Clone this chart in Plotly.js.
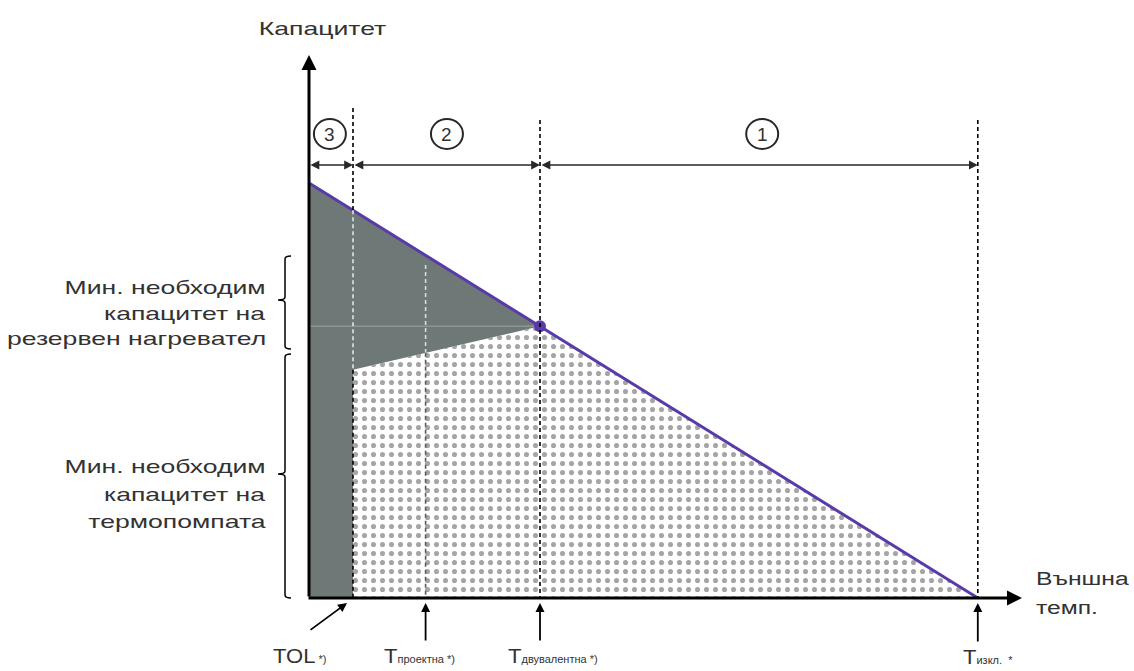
<!DOCTYPE html>
<html>
<head>
<meta charset="utf-8">
<script src="https://cdn.plot.ly/plotly-3.0.1.min.js"></script>
<style>html,body{margin:0;padding:0;background:#fff;}#chart{width:1134px;height:671px;}</style>
</head>
<body>
<div id="chart"></div>
<script>
// ---- data (schematic units) ----
const tempNames = ['TOL', 'проектна', 'двувалентна', 'изкл.'];
const tempValues = [2.0, 5.3, 10.5, 30.4];     // TOL, design, bivalent, switch-off
const loadX = [0, 30.4];                        // building heat load line
const loadY = [100, 0];
const bivalentCap = 65.5;                       // capacity at bivalent point
const hpCapAtTol = 55;                          // heat pump capacity at TOL
const zoneLabels = ['3', '2', '1'];
const zoneCentres = [0.95, 6.27, 20.6];

// ---- pixel helpers for layout only ----
const X = px => (px - 309) / 22;
const Y = py => (598 - py) / 4.15;

const [tTol, tDes, tBiv, tOff] = tempValues;
const purple = 'rgb(88,58,168)';
const grey = 'rgb(110,120,118)';
const FONT = 'Liberation Sans, Arial, sans-serif';
const TXT = 'rgb(50,50,50)';

const traces = [
  { // dotted region: heat pump capacity
    x: [tTol, tTol, tBiv, tOff, tTol], y: [0, hpCapAtTol, bivalentCap, 0, 0],
    type: 'scatter', mode: 'lines', fill: 'toself', line: {width: 0},
    fillcolor: 'white',
    fillpattern: {shape: '.', bgcolor: 'white', fgcolor: 'rgb(165,165,165)', size: 9, solidity: 0.25},
    hoverinfo: 'skip', showlegend: false
  },
  { // grey region: back-up heater
    x: [0, 0, tBiv, tTol, tTol, 0], y: [0, loadY[0], bivalentCap, hpCapAtTol, 0, 0],
    type: 'scatter', mode: 'lines', fill: 'toself', line: {width: 0},
    fillcolor: grey, hoverinfo: 'skip', showlegend: false
  },
  { // faint line across grey region
    x: [0, tBiv], y: [bivalentCap, bivalentCap], type: 'scatter', mode: 'lines',
    line: {color: 'rgba(190,195,190,0.6)', width: 1}, hoverinfo: 'skip', showlegend: false
  },
  { // load line
    x: loadX, y: loadY, type: 'scatter', mode: 'lines',
    line: {color: purple, width: 3}, hoverinfo: 'skip', showlegend: false
  },
  { // bivalent point
    x: [tBiv], y: [bivalentCap], type: 'scatter', mode: 'markers',
    marker: {color: purple, size: 12}, hoverinfo: 'skip', showlegend: false
  }
];

const loadAt = t => loadY[0] + (loadY[1] - loadY[0]) * (t - loadX[0]) / (loadX[1] - loadX[0]);
const hpAt = t => hpCapAtTol + (bivalentCap - hpCapAtTol) * (t - tTol) / (tBiv - tTol);

function vseg(x, y0, y1, color) {
  return {type: 'line', xref: 'x', yref: 'y', x0: x, x1: x, y0: y0, y1: y1,
    line: {color: color, width: 1.6, dash: '4px,3px'}, layer: 'above'};
}
const shapes = [
  vseg(tTol, Y(108), loadAt(tTol), 'black'),
  vseg(tTol, loadAt(tTol), hpCapAtTol, 'rgb(225,228,225)'),
  vseg(tTol, hpCapAtTol, 0, 'black'),
  vseg(tDes, Y(265), hpAt(tDes), 'rgb(215,218,215)'),
  vseg(tDes, hpAt(tDes), 0, 'rgb(90,90,90)'),
  vseg(tBiv, Y(120), 0, 'black'),
  vseg(tOff, Y(120), 0, 'black')
];
zoneCentres.forEach(c => shapes.push({type: 'circle', xref: 'x', yref: 'y',
  xsizemode: 'pixel', ysizemode: 'pixel', xanchor: c, yanchor: Y(134),
  x0: -16, x1: 16, y0: -15, y1: 15, line: {color: 'rgb(40,40,40)', width: 2}}));

// braces
function brace(xv, top, mid, bot) {
  const xs = X(xv), xr = X(xv + 6), xl = X(xv - 7);
  const t = Y(top), m = Y(mid), b = Y(bot), d = 3 / 4.15;
  return {type: 'path', xref: 'x', yref: 'y', line: {color: 'black', width: 1.5},
    path: `M ${xr} ${t} Q ${xs} ${t} ${xs} ${t - d} L ${xs} ${m + d} Q ${xs} ${m} ${xl} ${m} Q ${xs} ${m} ${xs} ${m - d} L ${xs} ${b + d} Q ${xs} ${b} ${xr} ${b}`};
}
shapes.push(brace(285, 256, 300, 349));
shapes.push(brace(285, 354, 474, 598));

const ann = [];
const stretch = {};   // annotation index -> horizontal text stretch
function arrow(x, y, ax, ay, w, size) {
  ann.push({x: x, y: y, ax: ax, ay: ay, xref: 'x', yref: 'y', axref: 'x', ayref: 'y',
    showarrow: true, text: '', arrowhead: 2, arrowsize: size, arrowwidth: w, arrowcolor: 'black', standoff: 0, startstandoff: 0});
}
function darrow(xa, xb, y) {
  ann.push({x: xb, y: y, ax: xa, ay: y, xref: 'x', yref: 'y', axref: 'x', ayref: 'y',
    showarrow: true, text: '', arrowhead: 2, startarrowhead: 2, arrowside: 'end+start',
    arrowsize: 1.1, startarrowsize: 1.1, arrowwidth: 1.6, arrowcolor: 'rgb(40,40,40)', standoff: 0, startstandoff: 0});
}
// axes
arrow(0, Y(55), 0, 0, 3, 1);
arrow(X(1022), 0, X(307), 0, 3, 1);
// zone arrows
darrow(0, tTol, Y(165));
darrow(tTol, tBiv, Y(165));
darrow(tBiv, tOff, Y(165));
// bottom arrows
arrow(X(347), Y(603), X(309), Y(631), 1.8, 1);
arrow(tDes, Y(603), tDes, Y(642), 1.8, 1);
arrow(tBiv, Y(603), tBiv, Y(642), 1.8, 1);
arrow(tOff, Y(603), tOff, Y(643), 1.8, 1);

function txt(t, xp, yp, anchor, size, sx) {
  if (sx) stretch[ann.length] = {s: sx, o: anchor};
  ann.push({text: t, x: X(xp), y: Y(yp), xref: 'x', yref: 'y', showarrow: false,
    xanchor: anchor, yanchor: 'middle', font: {family: FONT, size: size || 19, color: TXT}});
}
zoneLabels.forEach((l, i) => ann.push({text: l, x: zoneCentres[i], y: Y(134), xref: 'x', yref: 'y',
  showarrow: false, font: {family: FONT, size: 19, color: TXT}}));

txt('Капацитет', 322, 28, 'center', 19, 1.4);
txt('Мин. необходим', 268, 287, 'right', 19, 1.4);
txt('капацитет на', 268, 313, 'right', 19, 1.4);
txt('резервен нагревател', 268, 338, 'right', 19, 1.4);
txt('Мин. необходим', 268, 466, 'right', 19, 1.4);
txt('капацитет на', 268, 494, 'right', 19, 1.4);
txt('термопомпата', 268, 521, 'right', 19, 1.4);
txt('Външна', 1034, 578, 'left', 19, 1.3);
txt('темп.', 1034, 607, 'left', 19, 1.3);

const sub = s => `<span style="font-size:10px">${s}</span>`;
const star = '<span style="font-size:10px"> *)</span>';
txt(tempNames[0] + star, 271, 656, 'left', 20, 1.1);
txt('T' + sub(tempNames[1]) + star, 382, 656, 'left', 20, 1.1);
txt('T' + sub(tempNames[2]) + star, 506, 656, 'left', 20, 1.1);
txt('T' + sub(tempNames[3]) + '<span style="font-size:10px">  *</span>', 961, 657, 'left', 20, 1.1);

const layout = {
  width: 1134, height: 671,
  margin: {l: 0, r: 0, t: 0, b: 0},
  paper_bgcolor: 'white', plot_bgcolor: 'white',
  xaxis: {range: [X(0), X(1134)], visible: false, fixedrange: true},
  yaxis: {range: [Y(671), Y(0)], visible: false, fixedrange: true},
  shapes: shapes, annotations: ann, showlegend: false
};
Plotly.newPlot('chart', traces, layout, {staticPlot: true}).then(gd => {
  gd.querySelectorAll('g.annotation').forEach(g => {
    const info = stretch[+g.getAttribute('data-index')];
    if (!info) return;
    const t = g.querySelector('text.annotation-text');
    if (!t) return;
    const origin = info.o === 'right' ? 'right' : info.o === 'left' ? 'left' : 'center';
    t.style.transformBox = 'fill-box';
    t.style.transformOrigin = origin + ' center';
    t.style.transform = `scaleX(${info.s})`;
  });
});
</script>
</body>
</html>
